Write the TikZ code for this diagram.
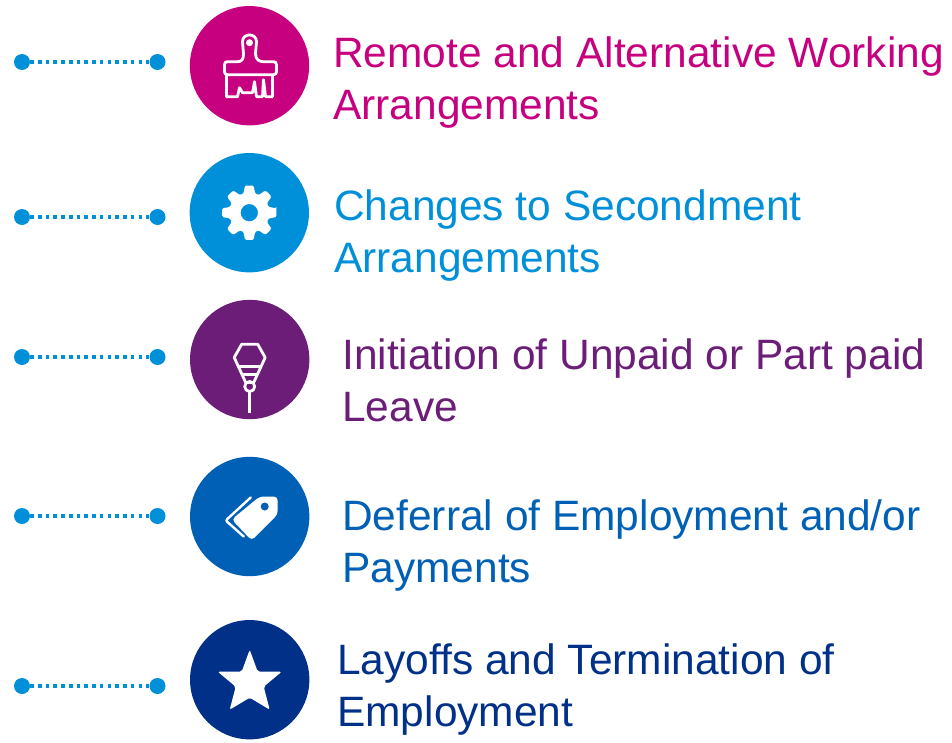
\documentclass[tikz,border=0pt]{standalone}
\usepackage{fontspec}
\setmainfont{Liberation Sans}
\definecolor{brushcol}{HTML}{C6007E}
\definecolor{gearcol}{HTML}{0090DA}
\definecolor{plumbcol}{HTML}{6C1D78}
\definecolor{tagcol}{HTML}{0060B6}
\definecolor{starcol}{HTML}{003087}
\begin{document}
\begin{tikzpicture}[
    x=0.75pt, y=-0.75pt,
    disc/.style={circle, inner sep=0pt, minimum size=89.5pt},
    dot/.style={circle, fill=gearcol, inner sep=0pt, minimum size=12pt},
    link/.style={gearcol, line width=2.7pt, dash pattern=on 2.7pt off 3.1pt},
    label/.style={anchor=west, inner sep=0pt, align=left, font=\fontsize{31.85}{39}\selectfont},
    icon/.style={white, line width=2.1pt, line join=round},
]
    \useasboundingbox (0,0) rectangle (952,742);

    % Discs
    \node[disc, fill=brushcol] (brush) at (249.5,65.7) {};
    \node[disc, fill=gearcol] (gear) at (249.3,212.7) {};
    \node[disc, fill=plumbcol] (plumb) at (249.7,359.5) {};
    \node[disc, fill=tagcol] (tag) at (249.7,516.5) {};
    \node[disc, fill=starcol] (star) at (249.7,679.7) {};

    % Labels
    \node[label, text=brushcol] (brushtext) at (333,83) {Remote and Alternative Working\\Arrangements};
    \node[label, text=gearcol] (geartext) at (334,235.5) {Changes to Secondment\\Arrangements};
    \node[label, text=plumbcol] (plumbtext) at (342,380.5) {Initiation of Unpaid or Part paid\\Leave};
    \node[label, text=tagcol] (tagtext) at (342,545.5) {Deferral of Employment and/or\\Payments};
    \node[label, text=starcol] (startext) at (337,689.5) {Layoffs and Termination of\\Employment};

    % Dotted lines
    \node[dot] (a1) at (22,62) {};
    \node[dot] (a2) at (157.5,62) {};
    \node[dot] (b1) at (22,217) {};
    \node[dot] (b2) at (157.5,217) {};
    \node[dot] (c1) at (22,357) {};
    \node[dot] (c2) at (157.5,357) {};
    \node[dot] (d1) at (22,516) {};
    \node[dot] (d2) at (157.5,516) {};
    \node[dot] (e1) at (22,686) {};
    \node[dot] (e2) at (157.5,686) {};
    \draw[link] (a1) -- (a2);
    \draw[link] (b1) -- (b2);
    \draw[link] (c1) -- (c2);
    \draw[link] (d1) -- (d2);
    \draw[link] (e1) -- (e2);

    % Brush icon
    \begin{scope}[shift={(brush.center)}]
        \draw[icon] (-7,-24) .. controls (-7,-33) and (7,-33) .. (7,-24) -- (6,-12) .. controls (6,-6) and (10,-4) .. (14,-4) -- (24,-4) .. controls (26,-4) and (27,-3) .. (27,-1) -- (27,6) .. controls (27,8) and (26,9) .. (24,9) -- (-22,9) .. controls (-24,9) and (-25,8) .. (-25,6) -- (-25,-1) .. controls (-25,-3) and (-24,-4) .. (-22,-4) -- (-12,-4) .. controls (-8,-4) and (-6,-6) .. (-6,-12) -- cycle;
        \draw[icon] (-23,9) -- (-23,31) -- (-12,31) -- (-10,22) -- (-7,27) -- (3,27) -- (5,16) -- (7,31) -- (13,31) -- (14,14) -- (16,31) -- (23,31) -- (23,9);
        \fill[white] (0,-23) circle[radius=3.5];
    \end{scope}

    % Gear icon
    \begin{scope}[shift={(gear.center)}]
        \fill[white, even odd rule, rounded corners=1pt] (-9:27.5)
            \foreach \a in {0,45,...,315} { -- (\a-9:27.5) -- (\a+9:27.5) -- (\a+17:20) -- (\a+28:20) }
            -- cycle (0,0) circle[radius=8.7];
    \end{scope}

    % Plumb icon
    \begin{scope}[shift={(plumb.center)}]
        \draw[icon] (-8,-15.3) -- (8,-15.3) -- (15.5,-2) -- (4,23) -- (-4,23) -- (-15.5,-2) -- cycle;
        \draw[icon] (-11.4,7) -- (11.4,7);
        \draw[icon] (-7.7,15) -- (7.7,15);
        \draw[icon] (0,27) circle[radius=5];
        \draw[icon] (0,32) -- (0,53);
    \end{scope}

    % Tag icon
    \begin{scope}[shift={(tag.center)}]
        \draw[white, line width=1.8pt, line cap=round, rounded corners=1.5pt] (1,-19) -- (-24,4) -- (-6,20);
        \fill[white, rounded corners=3pt] (10,-20) -- (28,-20) -- (28,-2) -- (2,24) -- (-18,3) -- cycle;
        \fill[tagcol] (15,-10) circle[radius=4];
    \end{scope}

    % Star icon
    \begin{scope}[shift={(star.center)}]
        \fill[white, rounded corners=1.5pt] (0,-30) -- (8,-8) -- (32,-8) -- (14,7) -- (20,30) -- (0,18) -- (-20,30) -- (-14,7) -- (-32,-8) -- (-8,-8) -- cycle;
    \end{scope}
\end{tikzpicture}
\end{document}
